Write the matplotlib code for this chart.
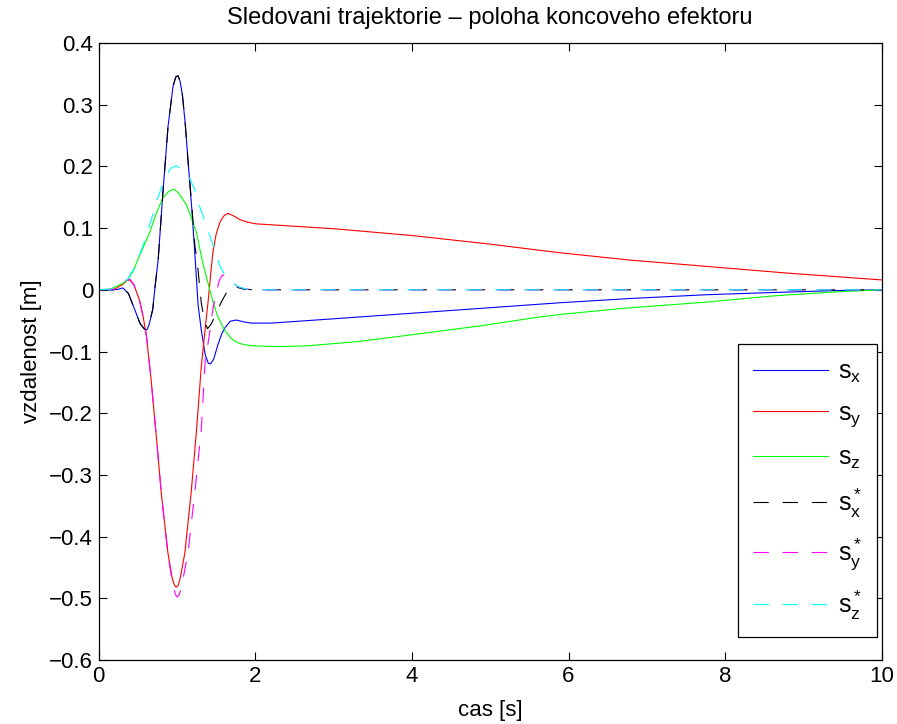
import matplotlib
matplotlib.use("Agg")
import matplotlib.pyplot as plt

plt.rcParams['font.family'] = ['Liberation Sans', 'DejaVu Sans']
plt.rcParams['mathtext.fontset'] = 'custom'
plt.rcParams['mathtext.rm'] = 'Liberation Sans'
plt.rcParams['mathtext.it'] = 'Liberation Sans'
plt.rcParams['lines.scale_dashes'] = False

# ---- data ----
t_sx = [0, 0.2, 0.25, 0.31, 0.38, 0.46, 0.53, 0.58, 0.60, 0.62, 0.645, 0.69, 0.72, 0.76, 0.82, 0.886,
        0.95, 0.985, 1.013, 1.04, 1.07, 1.105, 1.14, 1.19, 1.23, 1.27, 1.31, 1.36, 1.40, 1.43, 1.47,
        1.52, 1.57, 1.61, 1.68, 1.76, 1.85, 1.95, 2.2, 3.0, 4.0, 5.0, 5.89, 6.8, 7.76, 8.7, 9.5, 10]
sx = [0, 0, 0.001, 0.003, -0.006, -0.032, -0.055, -0.063, -0.065, -0.064, -0.056, -0.032, 0.005,
      0.049, 0.157, 0.265, 0.330, 0.345, 0.347, 0.338, 0.315, 0.270, 0.211, 0.130, 0.055, -0.025,
      -0.065, -0.105, -0.119, -0.120, -0.112, -0.090, -0.072, -0.062, -0.051, -0.049, -0.052, -0.054,
      -0.054, -0.047, -0.038, -0.029, -0.021, -0.014, -0.008, -0.004, -0.001, 0]

t_sy = [0, 0.2, 0.3, 0.36, 0.40, 0.45, 0.52, 0.57, 0.61, 0.67, 0.74, 0.80, 0.885, 0.94, 0.965, 0.99,
        1.015, 1.04, 1.10, 1.18, 1.25, 1.31, 1.375, 1.40, 1.43, 1.46, 1.50, 1.55, 1.60, 1.65, 1.72,
        1.80, 1.89, 2.0, 3.0, 4.0, 5.0, 5.89, 6.8, 7.76, 8.8, 10]
sy = [0, 0.001, 0.008, 0.015, 0.016, 0.008, -0.016, -0.045, -0.075, -0.146, -0.243, -0.330, -0.427,
      -0.468, -0.478, -0.482, -0.479, -0.468, -0.427, -0.330, -0.227, -0.125, -0.045, -0.016, 0.025,
      0.062, 0.090, 0.110, 0.120, 0.124, 0.120, 0.114, 0.110, 0.107, 0.099, 0.088, 0.074, 0.060,
      0.048, 0.038, 0.027, 0.016]

t_sz = [0, 0.15, 0.20, 0.30, 0.37, 0.44, 0.50, 0.59, 0.65, 0.73, 0.82, 0.90, 0.958, 1.02, 1.12, 1.18,
        1.25, 1.32, 1.40, 1.46, 1.52, 1.61, 1.70, 1.78, 1.86, 1.99, 2.3, 2.65, 3.3, 3.93, 4.9, 5.63,
        5.89, 6.7, 7.76, 8.6, 9.46, 10]
sz = [0, 0.001, 0.004, 0.010, 0.016, 0.030, 0.049, 0.075, 0.092, 0.122, 0.149, 0.160, 0.163, 0.157,
      0.138, 0.118, 0.092, 0.049, 0.009, -0.020, -0.043, -0.066, -0.080, -0.086, -0.089, -0.091,
      -0.092, -0.091, -0.084, -0.074, -0.058, -0.044, -0.040, -0.030, -0.020, -0.010, -0.003, 0]

t_sxr = [0, 0.2, 0.25, 0.31, 0.38, 0.46, 0.53, 0.58, 0.60, 0.62, 0.645, 0.69, 0.72, 0.76, 0.82, 0.886,
         0.95, 0.985, 1.013, 1.04, 1.07, 1.105, 1.14, 1.19, 1.23, 1.26, 1.31, 1.35, 1.39, 1.44, 1.50,
         1.57, 1.63, 1.66, 1.70, 1.74, 1.85, 2.0, 10]
sxr = [0, 0, 0.001, 0.003, -0.006, -0.032, -0.055, -0.063, -0.065, -0.064, -0.056, -0.032, 0.005,
       0.049, 0.157, 0.265, 0.330, 0.345, 0.347, 0.338, 0.315, 0.270, 0.211, 0.135, 0.070, 0.044,
       -0.021, -0.050, -0.063, -0.055, -0.038, -0.019, -0.005, 0.002, 0.006, 0.005, 0.001, 0, 0]

t_syr = [0, 0.2, 0.3, 0.36, 0.40, 0.45, 0.52, 0.57, 0.61, 0.67, 0.74, 0.80, 0.885, 0.95, 0.98, 1.005,
         1.03, 1.06, 1.14, 1.226, 1.31, 1.36, 1.41, 1.46, 1.50, 1.54, 1.58, 1.63, 1.70, 1.78, 1.88,
         2.0, 10]
syr = [0, 0.001, 0.009, 0.016, 0.017, 0.008, -0.016, -0.045, -0.075, -0.146, -0.243, -0.330, -0.430,
       -0.480, -0.494, -0.498, -0.494, -0.480, -0.427, -0.330, -0.227, -0.115, -0.076, -0.030, -0.005,
       0.015, 0.024, 0.022, 0.012, 0.005, 0.001, 0, 0]

t_szr = [0, 0.15, 0.2, 0.3, 0.37, 0.44, 0.50, 0.59, 0.67, 0.76, 0.85, 0.92, 0.99, 1.06, 1.16, 1.22,
         1.29, 1.35, 1.40, 1.48, 1.55, 1.62, 1.72, 1.80, 1.9, 2.0, 10]
szr = [0, 0.001, 0.004, 0.010, 0.017, 0.032, 0.050, 0.080, 0.113, 0.151, 0.182, 0.197, 0.201, 0.195,
       0.181, 0.165, 0.135, 0.113, 0.095, 0.065, 0.038, 0.022, 0.010, 0.004, 0.001, 0, 0]

labels = [r'$\mathregular{s_x}$', r'$\mathregular{s_y}$', r'$\mathregular{s_z}$',
          r'$\mathregular{s_x^*}$', r'$\mathregular{s_y^*}$', r'$\mathregular{s_z^*}$']
xticks = [0, 2, 4, 6, 8, 10]
yticks = [-0.6, -0.5, -0.4, -0.3, -0.2, -0.1, 0, 0.1, 0.2, 0.3, 0.4]

# ---- figure ----
fig = plt.figure(figsize=(8.97, 7.24), dpi=100)
ax = fig.add_axes([0.110, 0.0884, 0.873, 0.8522])

lw = 0.8
dash = (0, (11, 10))
ax.plot(t_sx, sx, color='#0000ff', lw=lw, label=labels[0])
ax.plot(t_sy, sy, color='#ff0000', lw=lw, label=labels[1])
ax.plot(t_sz, sz, color='#00ff00', lw=lw, label=labels[2])
ax.plot(t_sxr, sxr, color='#000000', lw=lw, linestyle=dash, label=labels[3])
ax.plot(t_syr, syr, color='#ff00ff', lw=lw, linestyle=dash, label=labels[4])
ax.plot(t_szr, szr, color='#00ffff', lw=lw, linestyle=dash, label=labels[5])

ax.set_xlim(0, 10)
ax.set_ylim(-0.6, 0.4)
ax.set_xticks(xticks)
ax.set_yticks(yticks)
ax.set_xticklabels([str(v) for v in xticks])
ax.set_yticklabels(['\u22120.6', '\u22120.5', '\u22120.4', '\u22120.3', '\u22120.2', '\u22120.1',
                    '0', '0.1', '0.2', '0.3', '0.4'])
ax.tick_params(direction='in', length=6, width=0.8, top=True, right=True, labelsize=16, pad=4)
for s in ax.spines.values():
    s.set_linewidth(0.9)

ax.set_title('Sledovani trajektorie \u2013 poloha koncoveho efektoru', fontsize=17, pad=14)
ax.set_xlabel('cas [s]', fontsize=16, labelpad=10)
ax.set_ylabel('vzdalenost [m]', fontsize=16, labelpad=5)

leg = ax.legend(loc='lower right', bbox_to_anchor=(0.9936, 0.0373), borderaxespad=0, fontsize=18,
                frameon=True, fancybox=False, edgecolor='black', framealpha=1, handlelength=3.0,
                labelspacing=0.65, borderpad=0.6, handletextpad=0.4)
leg.get_frame().set_linewidth(0.9)

fig.savefig('out.png', dpi=100)
